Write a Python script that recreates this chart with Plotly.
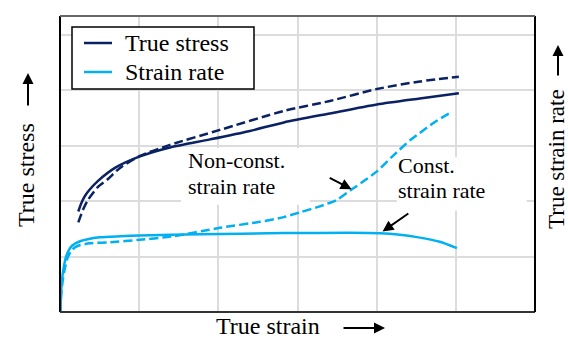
import plotly.graph_objects as go

# Flow curves: true stress and true strain rate versus true strain (arbitrary units)
stress_const_x = [0.231, 0.265, 0.31, 0.37, 0.484, 0.694, 1.01, 1.389, 1.894, 2.399, 2.828, 3.409, 4.003, 4.545, 5.038]
stress_const_y = [1.813, 1.95, 2.08, 2.2, 2.37, 2.6, 2.807, 2.969, 3.114, 3.267, 3.420, 3.582, 3.744, 3.852, 3.946]

stress_var_x = [0.231, 0.29, 0.354, 0.48, 0.606, 0.758, 1.01, 1.389, 2.02, 2.828, 3.409, 4.003, 4.545, 5.038]
stress_var_y = [1.616, 1.843, 2.024, 2.258, 2.40, 2.6, 2.816, 3.014, 3.285, 3.627, 3.807, 4.023, 4.159, 4.245]

rate_const_x = [0.006, 0.013, 0.025, 0.051, 0.076, 0.107, 0.152, 0.253, 0.379, 0.505, 0.758, 1.01, 1.768,
                2.828, 3.662, 4.04, 4.293, 4.508, 4.798, 5.013]
rate_const_y = [0.0, 0.312, 0.582, 0.834, 0.996, 1.105, 1.195, 1.276, 1.321, 1.348, 1.366, 1.380, 1.402,
                1.423, 1.429, 1.42, 1.393, 1.351, 1.267, 1.153]

rate_var_x = [0.006, 0.013, 0.032, 0.063, 0.101, 0.152, 0.227, 0.379, 0.631, 1.01, 1.414, 2.02, 2.525,
              2.828, 3.03, 3.283, 3.497, 3.687, 3.851, 4.003, 4.205, 4.419, 4.545, 4.735, 4.949]
rate_var_y = [0.0, 0.276, 0.546, 0.798, 0.996, 1.123, 1.195, 1.240, 1.258, 1.303, 1.362, 1.519, 1.627,
              1.712, 1.798, 1.906, 2.023, 2.213, 2.375, 2.537, 2.816, 3.095, 3.231, 3.429, 3.609]

grid_vals = [1, 2, 3, 4, 5]
legend_names = ["True stress", "Strain rate"]

NAVY = "#0a2263"
CYAN = "#00b0f0"
FONT = "Liberation Serif"
DASH = "9px,4px"

# pixel geometry of the plotting area, used to place paper-referenced decorations
W, H = 568, 338
ML, MR, MT, MB = 60, 33, 16, 26
PW, PH = W - ML - MR, H - MT - MB


def px(xp):
    return (xp - ML) / PW


def py(yp):
    return (H - MB - yp) / PH


fig = go.Figure()

fig.add_trace(go.Scatter(x=stress_const_x, y=stress_const_y, mode="lines", name=legend_names[0],
                         showlegend=False,
                         line=dict(color=NAVY, width=2.5, shape="spline", smoothing=0.7)))
fig.add_trace(go.Scatter(x=rate_const_x, y=rate_const_y, mode="lines", name=legend_names[1],
                         showlegend=False,
                         line=dict(color=CYAN, width=2.5, shape="spline", smoothing=0.6)))
fig.add_trace(go.Scatter(x=stress_var_x, y=stress_var_y, mode="lines", showlegend=False,
                         line=dict(color=NAVY, width=2.5, dash=DASH, shape="spline", smoothing=0.7)))
fig.add_trace(go.Scatter(x=rate_var_x, y=rate_var_y, mode="lines", showlegend=False,
                         line=dict(color=CYAN, width=2.5, dash=DASH, shape="spline", smoothing=0.6)))

# white panels behind the curve labels (between grid and traces)
fig.add_shape(type="rect", x0=1.528, x1=3.157, y0=1.933, y1=2.96, xref="x", yref="y",
              fillcolor="white", line=dict(width=0), layer="between")
fig.add_shape(type="rect", x0=4.255, x1=5.896, y0=1.825, y1=2.798, xref="x", yref="y",
              fillcolor="white", line=dict(width=0), layer="between")

# plot frame
frame = [
    (0, 0, 0, 1, "black"),
    (0, 0, 1, 0, "#333333"),
    (1, 0, 1, 1, "black"),
    (0, 1, 1, 1, "#666666"),
]
for x0, y0, x1, y1, c in frame:
    fig.add_shape(type="line", x0=x0, y0=y0, x1=x1, y1=y1, xref="paper", yref="paper",
                  line=dict(color=c, width=2), layer="above")

# legend box with line samples
fig.add_shape(type="rect", x0=px(72), x1=px(254), y0=py(89), y1=py(27), xref="paper", yref="paper",
              fillcolor="white", line=dict(color="black", width=1.5), layer="above")
for name, color, yline, ytext in [(legend_names[0], NAVY, 43, 43.2), (legend_names[1], CYAN, 72, 71.5)]:
    fig.add_shape(type="line", x0=px(84), x1=px(112), y0=py(yline), y1=py(yline),
                  xref="paper", yref="paper", line=dict(color=color, width=2.5), layer="above")
    fig.add_annotation(x=px(123), y=py(ytext), xref="paper", yref="paper", text=name,
                       showarrow=False, xanchor="left", yanchor="middle",
                       font=dict(family=FONT, size=24, color="black"))

txt = dict(family=FONT, size=22, color="black")
ann = [
    dict(x=1.591, y=2.726, text="Non-const."),
    dict(x=1.591, y=2.267, text="strain rate"),
    dict(x=4.239, y=2.643, text="Const."),
    dict(x=4.239, y=2.193, text="strain rate"),
]
for a in ann:
    fig.add_annotation(x=a["x"], y=a["y"], text=a["text"], xref="x", yref="y", showarrow=False,
                       xanchor="left", yanchor="middle", font=txt)

# pointer arrows to the curves
for tip, tail in [((3.683, 2.216), (3.388, 2.432)), ((4.074, 1.452), (4.419, 1.795))]:
    fig.add_annotation(x=tip[0], y=tip[1], ax=tail[0], ay=tail[1], xref="x", yref="y",
                       axref="x", ayref="y", text="", showarrow=True, arrowhead=2,
                       arrowsize=1.1, arrowwidth=2, arrowcolor="black")

# axis titles
lab = dict(family=FONT, size=24, color="black")
fig.add_annotation(x=px(267.5), y=py(325.5), xref="paper", yref="paper", text="True strain",
                   showarrow=False, font=lab, xanchor="center", yanchor="middle")
fig.add_annotation(x=px(26), y=py(175), xref="paper", yref="paper", text="True stress",
                   showarrow=False, font=lab, textangle=-90, xanchor="center", yanchor="middle")
fig.add_annotation(x=px(556), y=py(159), xref="paper", yref="paper", text="True strain rate",
                   showarrow=False, font=dict(family=FONT, size=23, color="black"),
                   textangle=-90, xanchor="center", yanchor="middle")

# direction arrows next to the axis titles
for x, y, ax, ay in [(385, 328, -43, 0), (28, 73, 0, 34), (558, 45, 0, 32)]:
    fig.add_annotation(x=px(x), y=py(y), xref="paper", yref="paper", text="", showarrow=True,
                       ax=ax, ay=ay, arrowhead=2, arrowsize=1.1, arrowwidth=2, arrowcolor="black")

fig.update_xaxes(range=[0, 6], tickvals=grid_vals, showticklabels=False, ticks="",
                 showgrid=True, gridcolor="#dcdcdc", gridwidth=1.5, zeroline=False, showline=False)
fig.update_yaxes(range=[0, 5.34], tickvals=grid_vals, showticklabels=False, ticks="",
                 showgrid=True, gridcolor="#dcdcdc", gridwidth=1.5, zeroline=False, showline=False)

fig.update_layout(
    width=W, height=H,
    margin=dict(l=ML, r=MR, t=MT, b=MB),
    paper_bgcolor="white", plot_bgcolor="white",
    showlegend=False,
)

fig.write_html("out.html")
